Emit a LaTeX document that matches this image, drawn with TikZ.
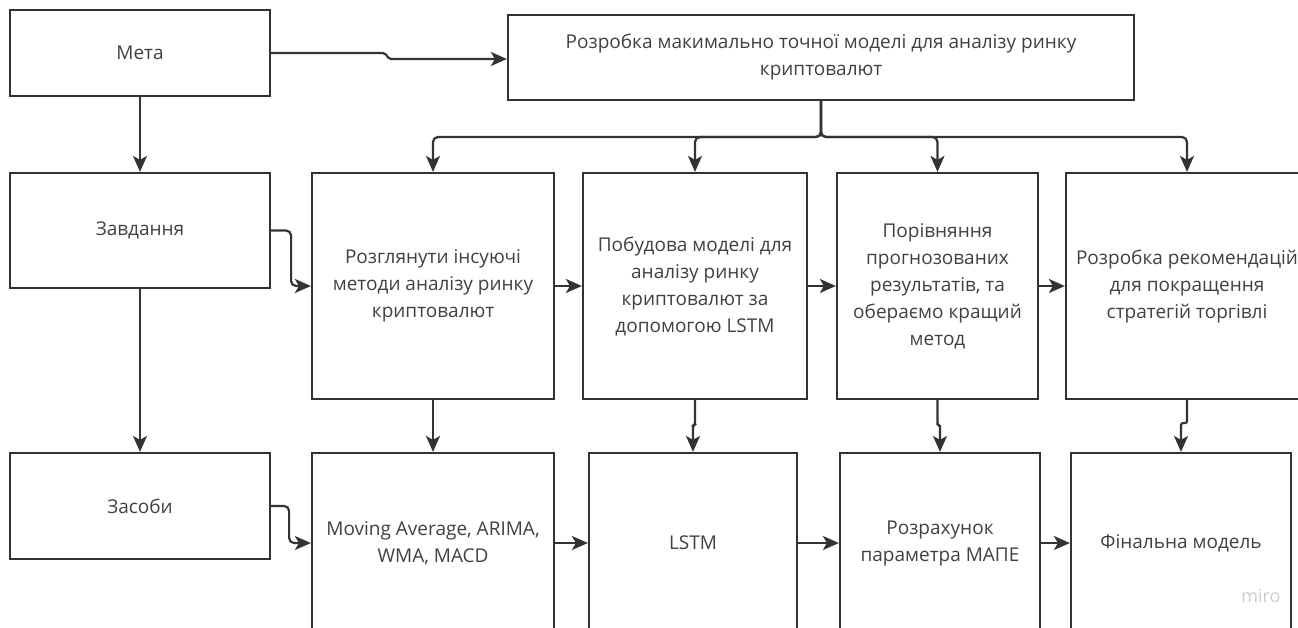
\documentclass[tikz,border=0pt]{standalone}
\usepackage{fontspec}
\setmainfont{Open Sans}
\usetikzlibrary{arrows.meta}
\definecolor{lnc}{HTML}{333333}
\definecolor{txc}{HTML}{404040}
\definecolor{wmc}{HTML}{CDCDCD}

\begin{document}
\begin{tikzpicture}[x=1pt,y=1pt,yscale=-1,
  box/.style={draw=lnc, line width=2.2pt, align=center, text=txc,
    font=\fontsize{19}{27}\selectfont, inner sep=2pt},
  arr/.style={draw=lnc, line width=2.2pt, rounded corners=5pt,
    -{Stealth[length=16pt,width=14pt,inset=4pt]}}]
\useasboundingbox (0,0) rectangle (1298,627);
\clip (0,0) rectangle (1298,627);

% left column
\node[box, minimum width=260pt, minimum height=86pt] (meta) at (140,53) {Мета};
\node[box, minimum width=260pt, minimum height=115pt] (zav) at (140,230.5) {Завдання};
\node[box, minimum width=260pt, minimum height=106pt] (zas) at (140,506) {Засоби};

% goal
\node[box, minimum width=626pt, minimum height=85pt] (top) at (821,57.5)
  {Розробка макимально точної моделі для аналізу ринку\\криптовалют};

% tasks
\node[box, minimum width=242pt, minimum height=226pt] (b1) at (433,286)
  {Розглянути інсуючі\\методи аналізу ринку\\криптовалют};
\node[box, minimum width=224pt, minimum height=226pt] (b2) at (695,286)
  {Побудова моделі для\\аналізу ринку\\криптовалют за\\допомогою LSTM};
\node[box, minimum width=201pt, minimum height=226pt] (b3) at (937.5,286)
  {Порівняння\\прогнозованих\\результатів, та\\обераємо кращий\\метод};
\node[box, minimum width=242pt, minimum height=226pt] (b4) at (1187,286)
  {Розробка рекомендацій\\для покращення\\стратегій торгівлі};

% tools (boxes run past the lower edge)
\node[box, minimum width=242pt, minimum height=180pt] (c1) at (433,543)
  {Moving Average, ARIMA,\\WMA, MACD};
\node[box, minimum width=208pt, minimum height=180pt] (c2) at (693,543) {LSTM};
\node[box, minimum width=200pt, minimum height=180pt] (c3) at (940,543)
  {Розрахунок\\параметра МАПЕ};
\node[box, minimum width=220pt, minimum height=180pt] (c4) at (1181,543) {Фінальна модель};

\node[text=wmc, font=\fontsize{18}{18}\selectfont] (miro) at (1261,596) {miro};

% connectors
\draw[arr, rounded corners=2pt] (meta.east) -- (385,53) -- (389,59) -- ([yshift=1.5pt]top.west);
\draw[arr] (meta.south) -- (zav.north);
\draw[arr] (zav.south) -- (zas.north);

\coordinate (split) at (821,137);
\foreach \t in {b1,b2,b3,b4}
  \draw[arr] (top.south) -- (split) -| (\t.north);

\draw[arr] (zav.east) -- ++(20,0) |- (b1.west);
\draw[arr] (zas.east) -- ++(18,0) |- (c1.west);

\draw[arr] (b1.east) -- (b2.west);
\draw[arr] (b2.east) -- (b3.west);
\draw[arr] (b3.east) -- (b4.west);
\draw[arr] (c1.east) -- (c2.west);
\draw[arr] (c2.east) -- (c3.west);
\draw[arr] (c3.east) -- (c4.west);

\draw[arr] (b1.south) -- (c1.north);
\draw[arr, rounded corners=1.5pt] (b2.south) -- ++(0,25) -| (c2.north);
\draw[arr, rounded corners=1.5pt] (b3.south) -- ++(0,25) -| (c3.north);
\draw[arr, rounded corners=2pt] (b4.south) -- ++(0,23) -| (c4.north);
\end{tikzpicture}
\end{document}
